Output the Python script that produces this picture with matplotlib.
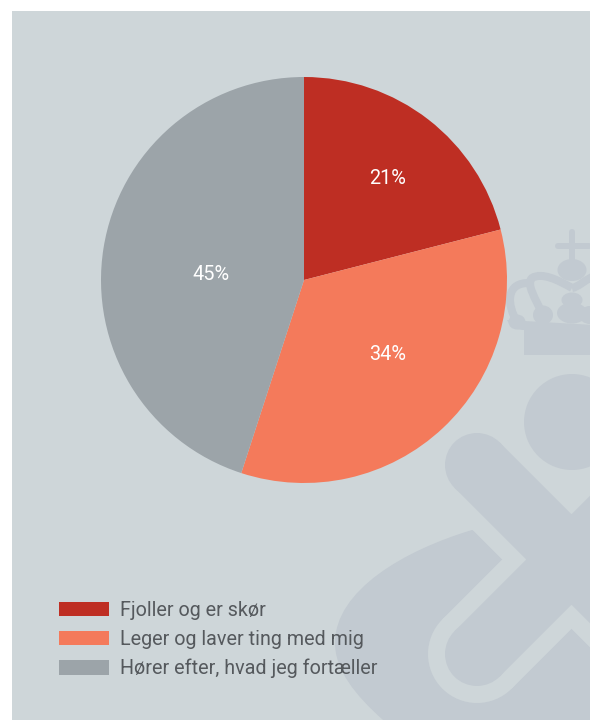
import matplotlib
matplotlib.use("Agg")
import matplotlib.pyplot as plt
import numpy as np
from matplotlib.path import Path
from matplotlib.patches import Circle, Ellipse, PathPatch, Polygon, Rectangle

plt.rcParams['font.family'] = ['Roboto', 'DejaVu Sans']

categories = ["Fjoller og er skør", "Leger og laver ting med mig", "Hører efter, hvad jeg fortæller"]
values = [21, 34, 45]
colors = ["#BE2E23", "#F47A5B", "#9CA4A9"]

W, H = 590, 720
BG = "#CED6D9"
MARK = "#C2CAD1"
TXT = "#55595D"
LW = 72 / 100  # px -> pt

fig = plt.figure(figsize=(W / 100, H / 100), dpi=100, facecolor="white")

# baggrund og vandmaerke tegnes i pixel-koordinater
bg = fig.add_axes([0, 0, 1, 1])
bg.set_xlim(0, W)
bg.set_ylim(H, 0)
bg.axis("off")
bg.add_patch(Rectangle((12, 11), W - 12, H - 11, color=BG, lw=0))


def band(p, q, half, col):
    # arm med rund ende i p, som polygon saa den ikke klippes ved kanten
    p, q = np.array(p, float), np.array(q, float)
    d = (q - p) / np.linalg.norm(q - p)
    n = np.array([-d[1], d[0]]) * half
    bg.add_patch(Polygon([p + n, q + n, q - n, p - n], color=col, lw=0))
    bg.add_patch(Circle(p, half, color=col, lw=0))


# stor klat nederst
blob = Path(
    [(472, 530), (405, 550), (335, 590), (335, 643),
     (335, 670), (355, 695), (383, 720),
     (590, 720), (590, 560), (472, 530)],
    [Path.MOVETO, Path.CURVE4, Path.CURVE4, Path.CURVE4,
     Path.CURVE4, Path.CURVE4, Path.CURVE4,
     Path.LINETO, Path.LINETO, Path.CLOSEPOLY])
bg.add_patch(PathPatch(blob, color=MARK, lw=0))

# krydset med lys kant omkring
arms = [((477, 465), (700, 688)), ((477, 654), (700, 431))]
for p, q in arms:
    band(p, q, 49, BG)
for p, q in arms:
    band(p, q, 32, MARK)
bg.add_patch(Circle((572, 422), 48, color=MARK, lw=0))

# kronen
base = Path([(507, 320), (512, 330), (524, 330), (524, 355), (594, 355), (594, 325), (507, 320)],
            [Path.MOVETO, Path.CURVE3, Path.CURVE3, Path.LINETO, Path.LINETO, Path.LINETO, Path.CLOSEPOLY])
bg.add_patch(PathPatch(base, color=MARK, lw=0))
bg.plot([572, 572], [232, 262], color=MARK, lw=6 * LW, solid_capstyle="round")
bg.plot([558, 589], [246, 246], color=MARK, lw=6 * LW, solid_capstyle="round")
for x, y, w, h in [(572, 270, 29, 22), (572, 300, 21, 15), (572, 313, 30, 21),
                   (543, 315, 20, 19), (517, 322, 17, 15), (590, 315, 22, 18)]:
    bg.add_patch(Ellipse((x, y), w, h, color=MARK, lw=0))
arch1 = Path([(543, 315), (535, 298), (526, 284), (532, 278), (542, 272), (558, 280), (572, 288)],
             [Path.MOVETO] + [Path.CURVE4] * 6)
arch2 = Path([(517, 322), (507, 305), (505, 282), (530, 283)],
             [Path.MOVETO] + [Path.CURVE4] * 3)
arch3 = Path([(572, 288), (578, 287), (584, 281), (592, 277)],
             [Path.MOVETO] + [Path.CURVE4] * 3)
for a in (arch1, arch2, arch3):
    bg.add_patch(PathPatch(a, fc="none", ec=MARK, lw=8 * LW))

# lagkagen
cx, cy, r = 304, 280, 203
ax = fig.add_axes([(cx - r) / W, 1 - (cy + r) / H, 2 * r / W, 2 * r / H])
wedges, _ = ax.pie(values, colors=colors, startangle=90, counterclock=False,
                   radius=1, wedgeprops={"lw": 0})
ax.set_xlim(-1, 1)
ax.set_ylim(-1, 1)

label_pos = [(388, 178), (388, 355), (211, 274)]
for v, (x, y) in zip(values, label_pos):
    fig.text(x / W, 1 - y / H, f"{v}%", color="white", fontsize=14.3,
             ha="center", va="center")

fig.legend(wedges, categories, loc="lower left", bbox_to_anchor=(51 / W, 1 - 686 / H),
           frameon=False, fontsize=14.2, labelcolor=TXT, handlelength=2.54, handleheight=0.76,
           handletextpad=0.55, labelspacing=0.495, borderpad=0.4, borderaxespad=0)

fig.savefig("out.png", dpi=100)
